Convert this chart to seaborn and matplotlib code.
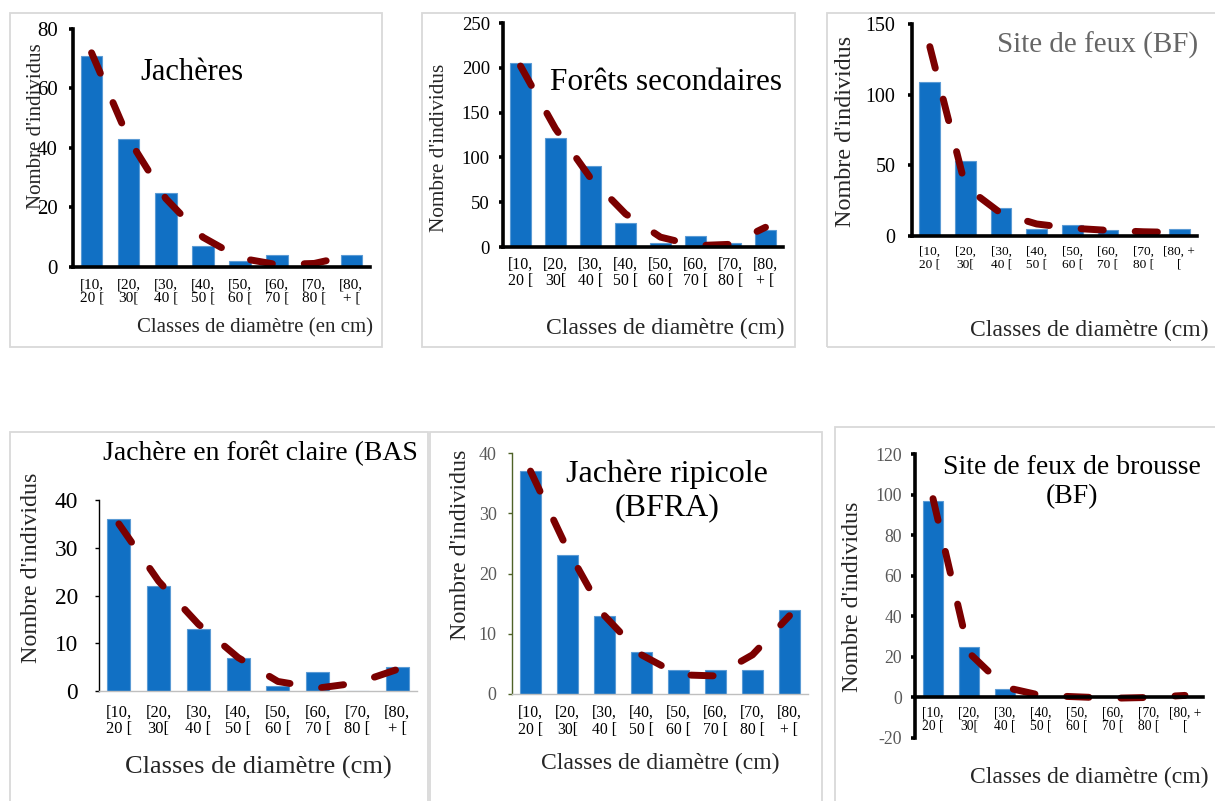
import numpy as np
import pandas as pd
import matplotlib
matplotlib.use('Agg')
import matplotlib.pyplot as plt
import seaborn as sns
from matplotlib.patches import Rectangle

# classes de diametre
classes = ["[10,\n20 [", "[20,\n30[", "[30,\n40 [", "[40,\n50 [",
           "[50,\n60 [", "[60,\n70 [", "[70,\n80 [", "[80,\n+ ["]
classes_b = ["[10,\n20 [", "[20,\n30[", "[30,\n40 [", "[40,\n50 [",
             "[50,\n60 [", "[60,\n70 [", "[70,\n80 [", "[80, +\n["]

# effectifs (barres) et courbes de tendance
jacheres = [71, 43, 25, 7, 2, 4, 0, 4]
jacheres_trend = [72, 43, 23, 10, 3, 0.8, 1.2, 4]
forets = [205, 122, 90, 27, 5, 12, 5, 19]
forets_trend = [202, 132, 77, 37, 11, 1.5, 3, 22]
feux = [109, 53, 20, 5, 8, 4, 0, 5]
feux_trend = [134, 35, 16, 8.5, 5.5, 4, 3, 2.5]
foret_claire = [36, 22, 13, 7, 1, 4, 0, 5]
foret_claire_trend = [35, 23, 14, 7, 2, 0.6, 1.7, 4.5]
ripicole = [37, 23, 13, 7, 4, 4, 4, 14]
ripicole_trend = [37, 24, 13, 6.5, 3.2, 3, 6.5, 13]
brousse = [97, 25, 4, 0, 0, 0, 0, 0]
brousse_trend = [98, 22, 5, 1, 0.3, -0.4, 0, 1]

W, H = 1215, 801
BLUE = '#1170c4'
RED = '#7b0000'
GRAY = '#595959'

sns.set_style('white')
plt.rcParams['font.family'] = ['Liberation Serif', 'DejaVu Serif']
plt.rcParams['axes.unicode_minus'] = False

fig = plt.figure(figsize=(W / 100, H / 100), dpi=100)

panels = [
    dict(bars=jacheres, trend=jacheres_trend, labels=classes,
         axes=(73, 29, 370, 267), border=(10, 13, 382, 347),
         ylim=(0, 80), yticks=[0, 20, 40, 60, 80],
         spine_w=2.6, left_c='black', bottom_c='black', tick_c='black',
         ysize=15, ycol='black', ypad=8, xsize=11, xpad=8,
         title="Jachères", title_xy=(140, 73), title_ha='left', title_size=22, title_c='black', title_ls=1.05,
         xlabel="Classes de diamètre (en cm)", xl_xy=(373, 328), xl_ha='right', xl_size=15,
         yl_xy=(37, 126), yl_size=15),
    dict(bars=forets, trend=forets_trend, labels=classes,
         axes=(503, 23, 783, 247), border=(422, 13, 795, 347),
         ylim=(0, 250), yticks=[0, 50, 100, 150, 200, 250],
         spine_w=2.6, left_c='black', bottom_c='black', tick_c='black',
         ysize=13.5, ycol='black', ypad=6.5, xsize=11.4, xpad=7,
         title="Forêts secondaires", title_xy=(550, 83), title_ha='left', title_size=22.5, title_c='black', title_ls=1.05,
         xlabel="Classes de diamètre (cm)", xl_xy=(785, 328), xl_ha='right', xl_size=17,
         yl_xy=(440, 148), yl_size=15.3),
    dict(bars=feux, trend=feux_trend, labels=classes_b,
         axes=(912, 24, 1197, 236), border=(827, 13, 1240, 347),
         ylim=(0, 150), yticks=[0, 50, 100, 150],
         spine_w=2.6, left_c='black', bottom_c='black', tick_c='black',
         ysize=14.4, ycol='black', ypad=9, xsize=9.6, xpad=7,
         title="Site de feux (BF)", title_xy=(1198, 45), title_ha='right', title_size=21, title_c='#666666', title_ls=1.05,
         xlabel="Classes de diamètre (cm)", xl_xy=(1209, 330), xl_ha='right', xl_size=17,
         yl_xy=(845, 131), yl_size=17.4),
    dict(bars=foret_claire, trend=foret_claire_trend, labels=classes,
         axes=(99, 500, 417, 691), border=(10, 432, 428, 830),
         ylim=(0, 40), yticks=[0, 10, 20, 30, 40],
         spine_w=1.0, left_c='black', bottom_c='#bfbfbf', tick_c=None,
         ysize=16.8, ycol='black', ypad=12, xsize=11.8, xpad=10,
         title="Jachère en forêt claire (BAS", title_xy=(103, 453), title_ha='left', title_size=20, title_c='black', title_ls=1.05,
         xlabel="Classes de diamètre (cm)", xl_xy=(258, 767), xl_ha='center', xl_size=19,
         yl_xy=(32, 568), yl_size=17.3),
    dict(bars=ripicole, trend=ripicole_trend, labels=classes,
         axes=(512, 453, 808, 694), border=(430, 432, 822, 830),
         ylim=(0, 40), yticks=[0, 10, 20, 30, 40],
         spine_w=1.0, left_c='#4f6228', bottom_c='#bfbfbf', tick_c=None,
         ysize=13, ycol=GRAY, ypad=8, xsize=11.3, xpad=8,
         title="Jachère ripicole\n(BFRA)", title_xy=(667, 491), title_ha='center', title_size=23, title_c='black', title_ls=1.18,
         xlabel="Classes de diamètre (cm)", xl_xy=(660, 763), xl_ha='center', xl_size=17,
         yl_xy=(460, 545), yl_size=17.3),
    dict(bars=brousse, trend=brousse_trend, labels=classes_b,
         axes=(915, 454, 1203, 738), border=(835, 427, 1240, 830),
         ylim=(-20, 120), yticks=[-20, 0, 20, 40, 60, 80, 100, 120],
         spine_w=2.6, left_c='black', bottom_c='black', tick_c='black',
         ysize=12.8, ycol=GRAY, ypad=6.5, xsize=9.8, xpad=6.5,
         title="Site de feux de brousse\n(BF)", title_xy=(1072, 482), title_ha='center', title_size=20, title_c='black', title_ls=1.25,
         xlabel="Classes de diamètre (cm)", xl_xy=(1208, 777), xl_ha='right', xl_size=17,
         yl_xy=(853, 597), yl_size=17.3),
]

for p in panels:
    bl, bt, br, bb = p['border']
    fig.add_artist(Rectangle((bl / W, 1 - bb / H), (br - bl) / W, (bb - bt) / H,
                             transform=fig.transFigure, fill=False, ec='#d9d9d9', lw=1.3))

    l, t, r, b = p['axes']
    ax = fig.add_axes([l / W, 1 - b / H, (r - l) / W, (b - t) / H])
    ax.patch.set_alpha(0)
    df = pd.DataFrame({'classe': p['labels'], 'n': p['bars']})
    sns.barplot(data=df, x='classe', y='n', color=BLUE, saturation=1, width=0.58,
                edgecolor='#5b9bd5', linewidth=0.8, ax=ax)
    sns.lineplot(x=np.arange(8), y=p['trend'], color=RED, lw=5,
                 linestyle=(0, (3.2, 4.6)), dash_capstyle='round', ax=ax)

    ax.set_xlim(-0.5, 7.5)
    ax.set_ylim(*p['ylim'])
    ax.set_yticks(p['yticks'])
    ax.set_xticks(range(8))
    ax.set_xticklabels(p['labels'])
    ax.set_xticks(np.arange(-0.5, 8, 1), minor=True)
    ax.set_xlabel('')
    ax.set_ylabel('')
    for s in ['top', 'right']:
        ax.spines[s].set_visible(False)
    ax.spines['left'].set_color(p['left_c'])
    ax.spines['left'].set_linewidth(p['spine_w'])
    ax.spines['bottom'].set_color(p['bottom_c'])
    ax.spines['bottom'].set_linewidth(p['spine_w'])
    if p['ylim'][0] < 0:
        ax.spines['bottom'].set_position(('data', 0))

    ax.tick_params(axis='x', which='major', length=0, pad=p['xpad'],
                   labelsize=p['xsize'], labelcolor='black')
    ax.tick_params(axis='x', which='minor', length=3.5, width=p['spine_w'],
                   color=p['tick_c'] or p['bottom_c'], direction='out')
    ax.tick_params(axis='y', length=3, width=p['spine_w'], color=p['tick_c'] or p['left_c'],
                   labelsize=p['ysize'], labelcolor=p['ycol'], pad=p['ypad'], left=True)
    for lab in ax.get_xticklabels():
        lab.set_linespacing(1.05)

    tx, ty = p['title_xy']
    fig.text(tx / W, 1 - ty / H, p['title'], ha=p['title_ha'], va='center',
             fontsize=p['title_size'], color=p['title_c'], linespacing=p['title_ls'])
    xx, xy = p['xl_xy']
    fig.text(xx / W, 1 - xy / H, p['xlabel'], ha=p['xl_ha'], va='center', fontsize=p['xl_size'])
    yx, yy = p['yl_xy']
    fig.text(yx / W, 1 - yy / H, "Nombre d'individus", rotation=90, ha='center', va='center',
             fontsize=p['yl_size'])

fig.savefig('out.png', dpi=100)
